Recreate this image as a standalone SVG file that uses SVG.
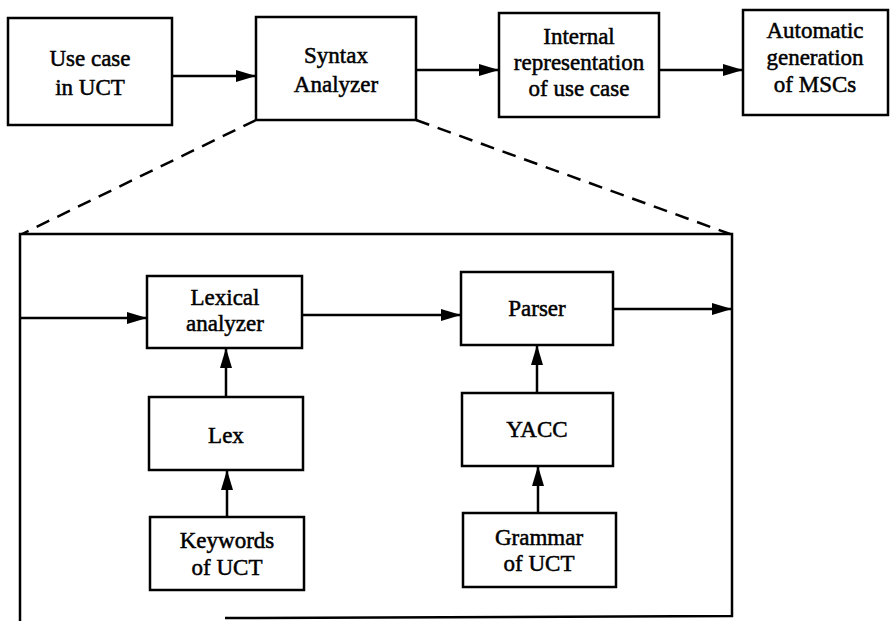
<svg xmlns="http://www.w3.org/2000/svg" width="893" height="621" viewBox="0 0 893 621">
<defs>
<marker id="ah" markerWidth="22" markerHeight="14" refX="20" refY="7" orient="auto" markerUnits="userSpaceOnUse">
<path d="M0,1 L20,7 L0,13 Z" fill="#000"/>
</marker>
</defs>
<style>
rect{fill:#fff;stroke:#000;stroke-width:2.5}
text{font-family:"Liberation Serif","Times New Roman",serif;font-size:23px;fill:#000;text-anchor:middle;stroke:#000;stroke-width:0.5}
.c line,.c polyline{stroke:#000;stroke-width:2.5;fill:none}
.a{marker-end:url(#ah)}
.d{stroke-dasharray:14 9}
</style>
<rect x="0" y="0" width="893" height="621" style="fill:#fff;stroke:none"/>
<g id="usecase"><rect x="8" y="18" width="164" height="107"/><text x="90" y="66">Use case</text><text x="90" y="95">in UCT</text></g>
<g id="syntax"><rect x="256" y="17" width="160" height="103"/><text x="336" y="63">Syntax</text><text x="336" y="92">Analyzer</text></g>
<g id="internal"><rect x="499" y="13" width="160" height="104"/><text x="579" y="44">Internal</text><text x="579" y="70">representation</text><text x="579" y="96">of use case</text></g>
<g id="automatic"><rect x="743" y="10" width="145" height="105"/><text x="815" y="38">Automatic</text><text x="815" y="65">generation</text><text x="815" y="92">of MSCs</text></g>
<g id="frame" class="c"><polyline points="20,621 20,234 732,234 732,616 225,618"/></g>
<g id="lexical"><rect x="147" y="276" width="155" height="72"/><text x="225" y="305">Lexical</text><text x="225" y="331">analyzer</text></g>
<g id="parser"><rect x="461" y="272" width="152" height="73"/><text x="537" y="316">Parser</text></g>
<g id="lex"><rect x="149" y="397" width="154" height="73"/><text x="226" y="443">Lex</text></g>
<g id="yacc"><rect x="462" y="393" width="151" height="73"/><text x="537" y="437">YACC</text></g>
<g id="keywords"><rect x="150" y="517" width="154" height="73"/><text x="227" y="548">Keywords</text><text x="227" y="575">of UCT</text></g>
<g id="grammar"><rect x="463" y="513" width="153" height="74"/><text x="539" y="545">Grammar</text><text x="539" y="571">of UCT</text></g>
<g id="connectors" class="c">
<line class="a" x1="172" y1="76" x2="256" y2="76"/>
<line class="a" x1="416" y1="70" x2="499" y2="70"/>
<line class="a" x1="659" y1="70" x2="743" y2="70"/>
<line class="d" x1="256" y1="120" x2="22" y2="234"/>
<line class="d" x1="416" y1="120" x2="730" y2="234"/>
<line class="a" x1="20" y1="318" x2="147" y2="318"/>
<line class="a" x1="302" y1="315" x2="461" y2="315"/>
<line class="a" x1="613" y1="309" x2="732" y2="309"/>
<line class="a" x1="226" y1="397" x2="226" y2="348"/>
<line class="a" x1="227" y1="517" x2="227" y2="470"/>
<line class="a" x1="537" y1="393" x2="537" y2="345"/>
<line class="a" x1="538" y1="513" x2="538" y2="466"/>
</g>
</svg>
